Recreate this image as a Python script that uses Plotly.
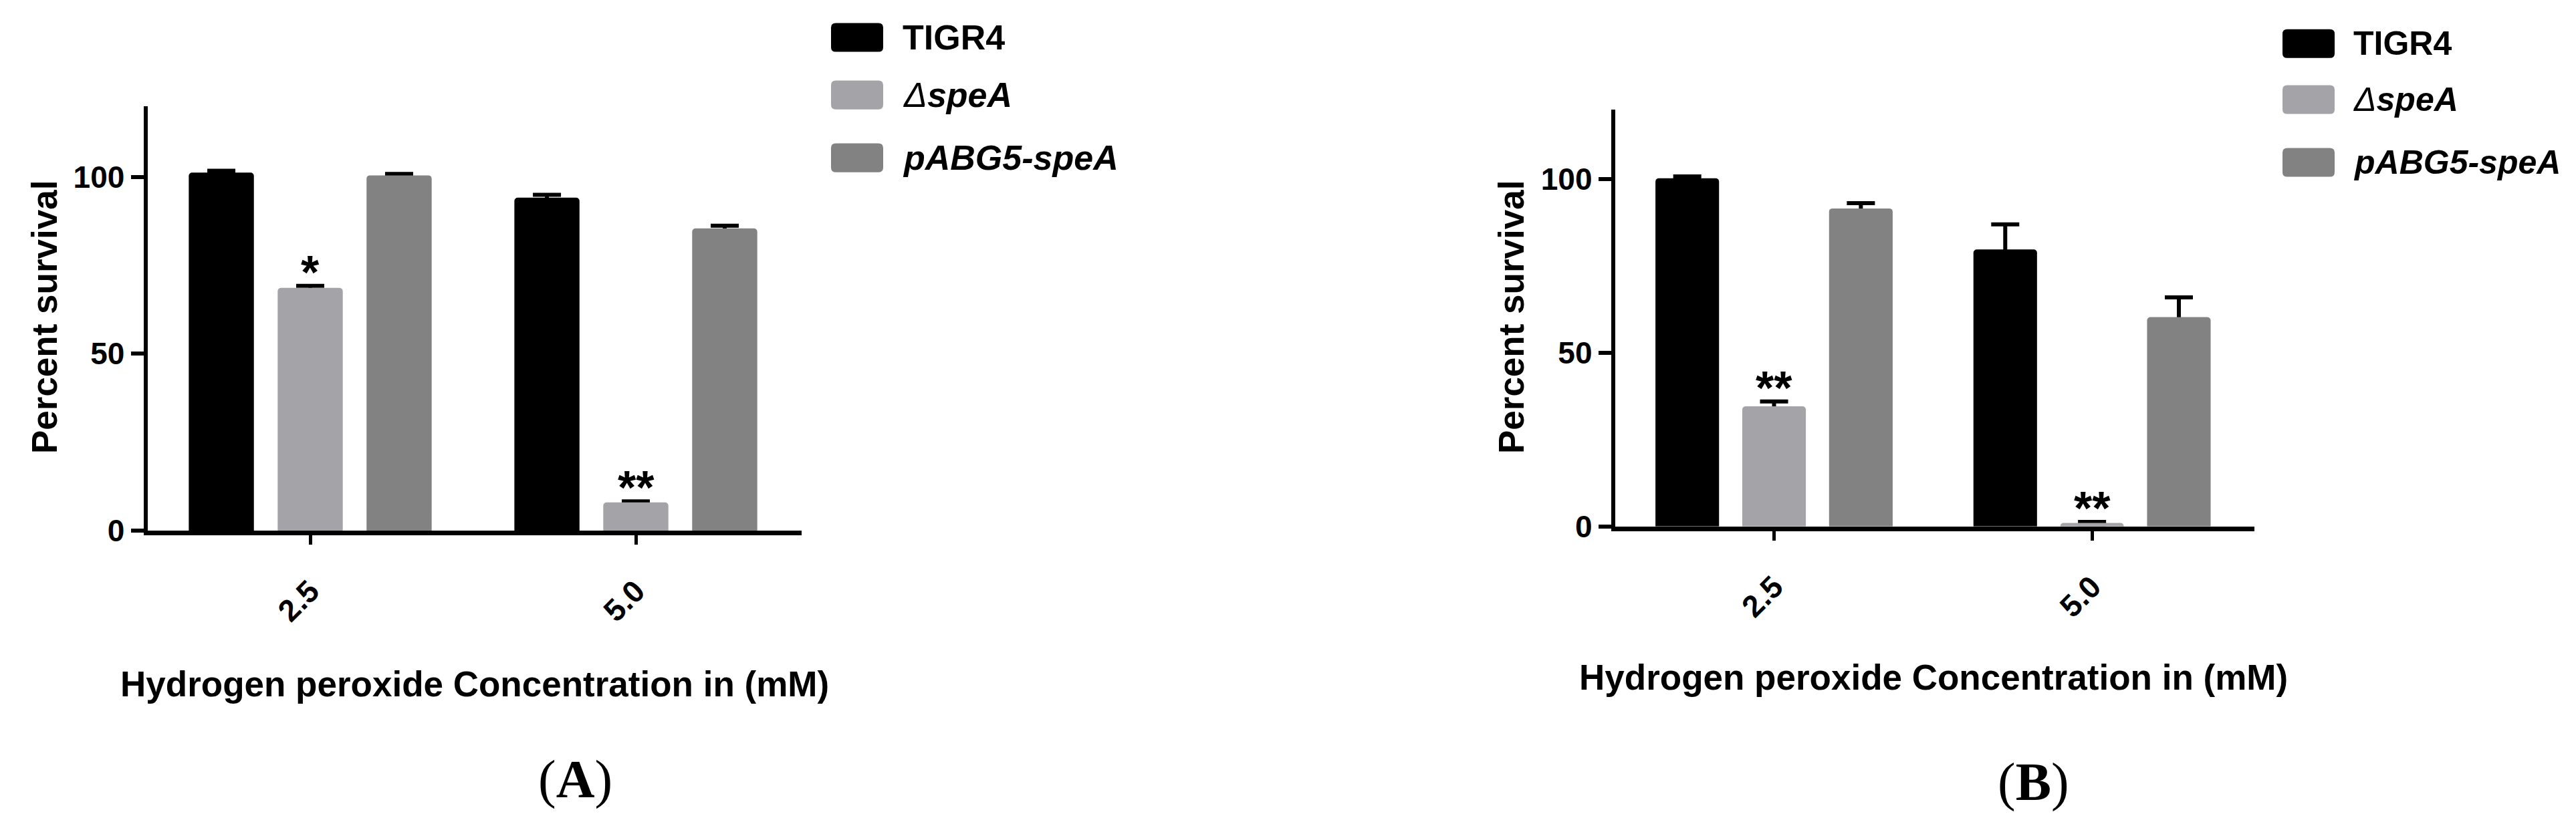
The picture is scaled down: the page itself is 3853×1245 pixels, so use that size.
import plotly.graph_objects as go

W, H = 3853, 1245

# ---------------- data ----------------
concentrations = ["2.5", "5.0"]
strains = ["TIGR4", "ΔspeA", "pABG5-speA"]
strain_labels = ["<b>TIGR4</b>", "<i>Δ</i><b><i>speA</i></b>", "<b><i>pABG5-speA</i></b>"]
colors = ["#000000", "#a4a4a8", "#828282"]

# Panel A
a_tigr4 = [101.2, 94.1]
a_tigr4_err = [0.5, 0.8]
a_spea = [68.6, 8.0]
a_spea_err = [0.6, 0.3]
a_pabg5 = [100.4, 85.4]
a_pabg5_err = [0.4, 0.8]
a_sig = ["*", "**"]

# Panel B
b_tigr4 = [100.3, 79.8]
b_tigr4_err = [0.5, 7.2]
b_spea = [34.6, 1.0]
b_spea_err = [1.4, 0.3]
b_pabg5 = [91.6, 60.3]
b_pabg5_err = [1.5, 5.7]
b_sig = ["**", "**"]

y_ticks = [0, 50, 100]
x_title = "<b>Hydrogen peroxide Concentration in (mM)</b>"
y_title = "<b>Percent survival</b>"
panel_labels = ["(<b>A</b>)", "(<b>B</b>)"]

# ---------------- style ----------------
FONT = "Liberation Sans, Arial, sans-serif"
BAR_W = 0.2
OFFSETS = [-0.373, -0.1, 0.173]

panels = [
    dict(vals=[a_tigr4, a_spea, a_pabg5], errs=[a_tigr4_err, a_spea_err, a_pabg5_err], sig=a_sig,
         xdom=[212.5 / W, 1191.4 / W], ydom=[(H - 803) / H, (H - 153.8) / H],
         xt=(702, 1037), yt=(58, 476), lab=(852, 1183),
         legx=(1235, 1313), legc=[49, 137, 233], textx=1340, legsize=52),
    dict(vals=[b_tigr4, b_spea, b_pabg5], errs=[b_tigr4_err, b_spea_err, b_pabg5_err], sig=b_sig,
         xdom=[2407.7 / W, 3363.7 / W], ydom=[(H - 796.4) / H, (H - 159.7) / H],
         xt=(2884, 1027), yt=(2252, 476), lab=(3033, 1187),
         legx=(3406, 3484), legc=[58.5, 144, 240], textx=3510, legsize=50),
]


def px(x):
    return x / W


def py(y):
    return (H - y) / H


def rounded_rect(x0, y0, x1, y1, r):
    pts = [
        ("M", px(x0 + r), py(y0)),
        ("L", px(x1 - r), py(y0)),
        ("Q", px(x1), py(y0), px(x1), py(y0 + r)),
        ("L", px(x1), py(y1 - r)),
        ("Q", px(x1), py(y1), px(x1 - r), py(y1)),
        ("L", px(x0 + r), py(y1)),
        ("Q", px(x0), py(y1), px(x0), py(y1 - r)),
        ("L", px(x0), py(y0 + r)),
        ("Q", px(x0), py(y0), px(x0 + r), py(y0)),
    ]
    s = ""
    for p in pts:
        cmd = p[0]
        coords = p[1:]
        s += cmd + " " + " ".join(
            f"{coords[i]:.6f},{coords[i + 1]:.6f}" for i in range(0, len(coords), 2)) + " "
    return s + "Z"


fig = go.Figure()
annotations = []
shapes = []
xpos = list(range(len(concentrations)))

for pi, p in enumerate(panels):
    xa = "x" if pi == 0 else "x2"
    ya = "y" if pi == 0 else "y2"
    for si in range(len(strains)):
        # error bars (drawn first so the bar hides the lower half, as in the original)
        fig.add_trace(go.Bar(
            x=xpos, y=p["vals"][si], width=BAR_W, offset=OFFSETS[si],
            marker=dict(color="rgba(0,0,0,0)", line=dict(width=0)),
            error_y=dict(type="data", array=p["errs"][si], symmetric=True,
                         color="#000000", thickness=6, width=21),
            xaxis=xa, yaxis=ya, showlegend=False, hoverinfo="skip"))
        fig.add_trace(go.Bar(
            x=xpos, y=p["vals"][si], width=BAR_W, offset=OFFSETS[si],
            name=strains[si],
            marker=dict(color=colors[si], line=dict(width=0), cornerradius=5),
            xaxis=xa, yaxis=ya, showlegend=False))

    # significance stars above the ΔspeA bars
    for ci, s in enumerate(p["sig"]):
        annotations.append(dict(
            x=xpos[ci], y=p["vals"][1][ci] + p["errs"][1][ci], xref=xa, yref=ya,
            text=s, showarrow=False, yanchor="middle", yshift=20,
            font=dict(family=FONT, size=70, color="#000000", weight="bold")))

    # axis titles and panel labels
    annotations.append(dict(x=px(p["xt"][0]), y=py(p["xt"][1]), xref="paper", yref="paper",
                            text=x_title, showarrow=False, xanchor="center", yanchor="middle",
                            font=dict(family=FONT, size=53, color="#000000")))
    annotations.append(dict(x=px(p["yt"][0]), y=py(p["yt"][1]), xref="paper", yref="paper",
                            text=y_title, showarrow=False, textangle=-90,
                            xanchor="center", yanchor="middle",
                            font=dict(family=FONT, size=53, color="#000000")))
    annotations.append(dict(x=px(p["lab"][0]), y=py(p["lab"][1]), xref="paper", yref="paper",
                            text=panel_labels[pi], showarrow=False, xanchor="center", yanchor="middle",
                            font=dict(family="Liberation Serif, Times New Roman, serif", size=80,
                                      color="#000000")))

    # legend
    for si in range(len(strains)):
        c = p["legc"][si]
        shapes.append(dict(type="path", xref="paper", yref="paper",
                           path=rounded_rect(p["legx"][0], c - 22, p["legx"][1], c + 22, 7),
                           fillcolor=colors[si], line=dict(width=0)))
        annotations.append(dict(x=px(p["textx"]), y=py(c), xref="paper", yref="paper",
                                text=strain_labels[si], showarrow=False,
                                xanchor="left", yanchor="middle",
                                font=dict(family=FONT, size=p["legsize"], color="#000000")))

axis_common_x = dict(range=[-0.5, 1.51], tickvals=xpos, ticktext=concentrations, tickangle=-45,
                     ticks="outside", ticklen=14, tickwidth=5, tickcolor="#000000",
                     ticklabelstandoff=24,
                     showline=True, linewidth=7, linecolor="#000000",
                     showgrid=False, zeroline=False,
                     tickfont=dict(family=FONT, size=46, color="#000000", weight="bold"))
axis_common_y = dict(range=[0, 120], tickvals=y_ticks, ticks="outside", ticklen=19, tickwidth=6,
                     tickcolor="#000000", showline=True, linewidth=6, linecolor="#000000",
                     showgrid=False, zeroline=False,
                     tickfont=dict(family=FONT, size=46, color="#000000", weight="bold"))

fig.update_layout(
    width=W, height=H,
    margin=dict(l=0, r=0, t=0, b=0),
    paper_bgcolor="white", plot_bgcolor="white",
    barmode="overlay",
    showlegend=False,
    font=dict(family=FONT, color="#000000"),
    xaxis=dict(domain=panels[0]["xdom"], anchor="y", **axis_common_x),
    yaxis=dict(domain=panels[0]["ydom"], anchor="x", **axis_common_y),
    xaxis2=dict(domain=panels[1]["xdom"], anchor="y2", **axis_common_x),
    yaxis2=dict(domain=panels[1]["ydom"], anchor="x2", **axis_common_y),
    annotations=annotations,
    shapes=shapes,
)

fig.write_html("out.html")
